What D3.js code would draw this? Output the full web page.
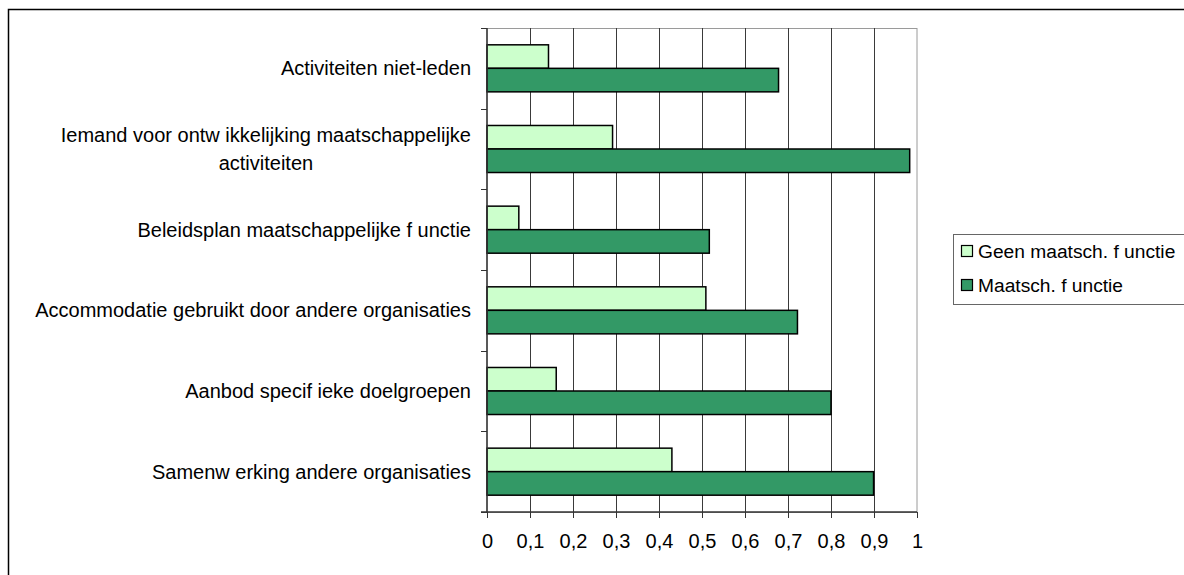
<!DOCTYPE html>
<html>
<head>
<meta charset="utf-8">
<script src="https://cdn.jsdelivr.net/npm/d3@7"></script>
<style>
  body { margin: 0; background: #fff; }
  svg text { font-family: "Liberation Sans", Arial, sans-serif; fill: #000; }
</style>
</head>
<body>
<div class="svg-container"></div>
<script>
var width = 1184,
  height = 575;

// data
var categories = [
  "Activiteiten niet-leden",
  "Iemand voor ontw ikkelijking maatschappelijke|activiteiten",
  "Beleidsplan maatschappelijke f unctie",
  "Accommodatie gebruikt door andere organisaties",
  "Aanbod specif ieke doelgroepen",
  "Samenw erking andere organisaties"
];
var seriesNames = ["Geen maatsch. f unctie", "Maatsch. f unctie"];
var geenValues = [0.143, 0.292, 0.074, 0.509, 0.161, 0.430];
var maatschValues = [0.678, 0.983, 0.517, 0.722, 0.800, 0.899];
var tickValues = [0, 0.1, 0.2, 0.3, 0.4, 0.5, 0.6, 0.7, 0.8, 0.9, 1];
var tickLabels = ["0", "0,1", "0,2", "0,3", "0,4", "0,5", "0,6", "0,7", "0,8", "0,9", "1"];
var colors = ["#ccffcc", "#339966"];

var rows = categories.map(function(c, i) {
  return { cat: c, vals: [geenValues[i], maatschValues[i]] };
});

var svg = d3.select(".svg-container").append("svg")
  .attr("width", width)
  .attr("height", height);

// outer chart frame (runs off the right and bottom edge)
svg.append("rect")
  .attr("x", 8.5).attr("y", 9.5)
  .attr("width", 1300).attr("height", 700)
  .attr("fill", "#fff")
  .attr("stroke", "#000")
  .attr("stroke-width", 1.5);

var plotLeft = 487, plotRight = 917, plotTop = 28, plotBottom = 512;

var x = d3.scaleLinear().domain([0, 1]).range([plotLeft, plotRight]);
var y = d3.scaleBand().domain(categories).range([plotTop, plotBottom])
  .paddingInner(0.417).paddingOuter(0.2085);
var ySub = d3.scaleBand().domain([0, 1]).range([0, y.bandwidth()]);

// plot area border
svg.append("rect")
  .attr("x", plotLeft).attr("y", plotTop + 0.5)
  .attr("width", plotRight - plotLeft).attr("height", plotBottom - plotTop)
  .attr("fill", "none")
  .attr("stroke", "#9a9a9a")
  .attr("stroke-width", 1);

// vertical gridlines
svg.selectAll(".grid")
  .data(tickValues.slice(1, -1))
  .enter().append("line")
  .attr("class", "grid")
  .attr("x1", function(d) { return Math.round(x(d)) + 0.5; })
  .attr("x2", function(d) { return Math.round(x(d)) + 0.5; })
  .attr("y1", plotTop).attr("y2", plotBottom)
  .attr("stroke", "#3a3a3a")
  .attr("stroke-width", 1);

// bars
var groups = svg.selectAll(".group")
  .data(rows)
  .enter().append("g")
  .attr("class", "group")
  .attr("transform", function(d) { return "translate(0," + y(d.cat) + ")"; });

groups.selectAll("rect")
  .data(function(d) { return d.vals; })
  .enter().append("rect")
  .attr("x", x(0))
  .attr("y", function(d, i) { return ySub(i); })
  .attr("width", function(d) { return x(d) - x(0); })
  .attr("height", ySub.bandwidth())
  .attr('fill', function(d, i) { return colors[i]; })
  .attr("stroke", "#000")
  .attr("stroke-width", 1.5);

// x axis
var xAxis = d3.axisBottom(x)
  .tickValues(tickValues)
  .tickSize(6)
  .tickPadding(16)
  .tickFormat(function(d, i) { return tickLabels[i]; });

var gx = svg.append("g")
  .attr("transform", "translate(0," + plotBottom + ")")
  .call(xAxis);
gx.select(".domain").attr("stroke", "#333").attr("stroke-width", 1.5)
  .attr("d", "M" + (plotLeft - 6) + ",0H" + plotRight);
gx.selectAll(".tick line").attr("stroke", "#333");
gx.selectAll(".tick text")
  .style("font-family", '"Liberation Sans", Arial, sans-serif')
  .style("font-size", "20px");

// y axis: ticks at band boundaries
var step = y.step();
var yTicks = d3.range(categories.length + 1).map(function(i) { return plotTop + i * step; });
svg.append("line")
  .attr("x1", plotLeft).attr("x2", plotLeft)
  .attr("y1", plotTop).attr("y2", plotBottom)
  .attr("stroke", "#333").attr("stroke-width", 1.5);
svg.selectAll(".ytick")
  .data(yTicks)
  .enter().append("line")
  .attr("class", "ytick")
  .attr("x1", plotLeft - 6).attr("x2", plotLeft)
  .attr("y1", function(d) { return Math.round(d) + 0.5; })
  .attr("y2", function(d) { return Math.round(d) + 0.5; })
  .attr("stroke", "#333");

// category labels (multi-line ones centered as a block)
var labelRight = 471, lineGap = 28;
rows.forEach(function(r) {
  var lines = r.cat.split("|");
  var cy = y(r.cat) + y.bandwidth() / 2;
  var t = svg.append("text")
    .attr("text-anchor", lines.length > 1 ? "middle" : "end")
    .style("font-size", "20px");
  lines.forEach(function(l, k) {
    t.append("tspan")
      .attr("x", labelRight)
      .attr("y", cy + 7 + (k - (lines.length - 1) / 2) * lineGap)
      .text(l);
  });
  if (lines.length > 1) {
    var maxW = 0;
    t.selectAll("tspan").each(function() {
      maxW = Math.max(maxW, this.getComputedTextLength());
    });
    t.selectAll("tspan").attr("x", labelRight - maxW / 2);
  }
});

// legend
var legend = svg.append("g").attr("transform", "translate(953,234)");
legend.append("rect")
  .attr("x", 0.5).attr("y", 0.5)
  .attr("width", 300).attr("height", 70)
  .attr("fill", "#fff")
  .attr("stroke", "#666");

var items = legend.selectAll(".item")
  .data(seriesNames)
  .enter().append("g")
  .attr("class", "item")
  .attr("transform", function(d, i) { return "translate(0," + (17 + i * 34) + ")"; });

items.append("rect")
  .attr("x", 8.5).attr("y", -5.5)
  .attr("width", 11).attr("height", 11)
  .attr('fill', function(d, i) { return colors[i]; })
  .attr("stroke", "#000")
  .attr("stroke-width", 1.2);

items.append("text")
  .attr("x", 25).attr("y", 7)
  .style("font-size", "19.2px")
  .text(function(d) { return d; });
</script>
</body>
</html>
